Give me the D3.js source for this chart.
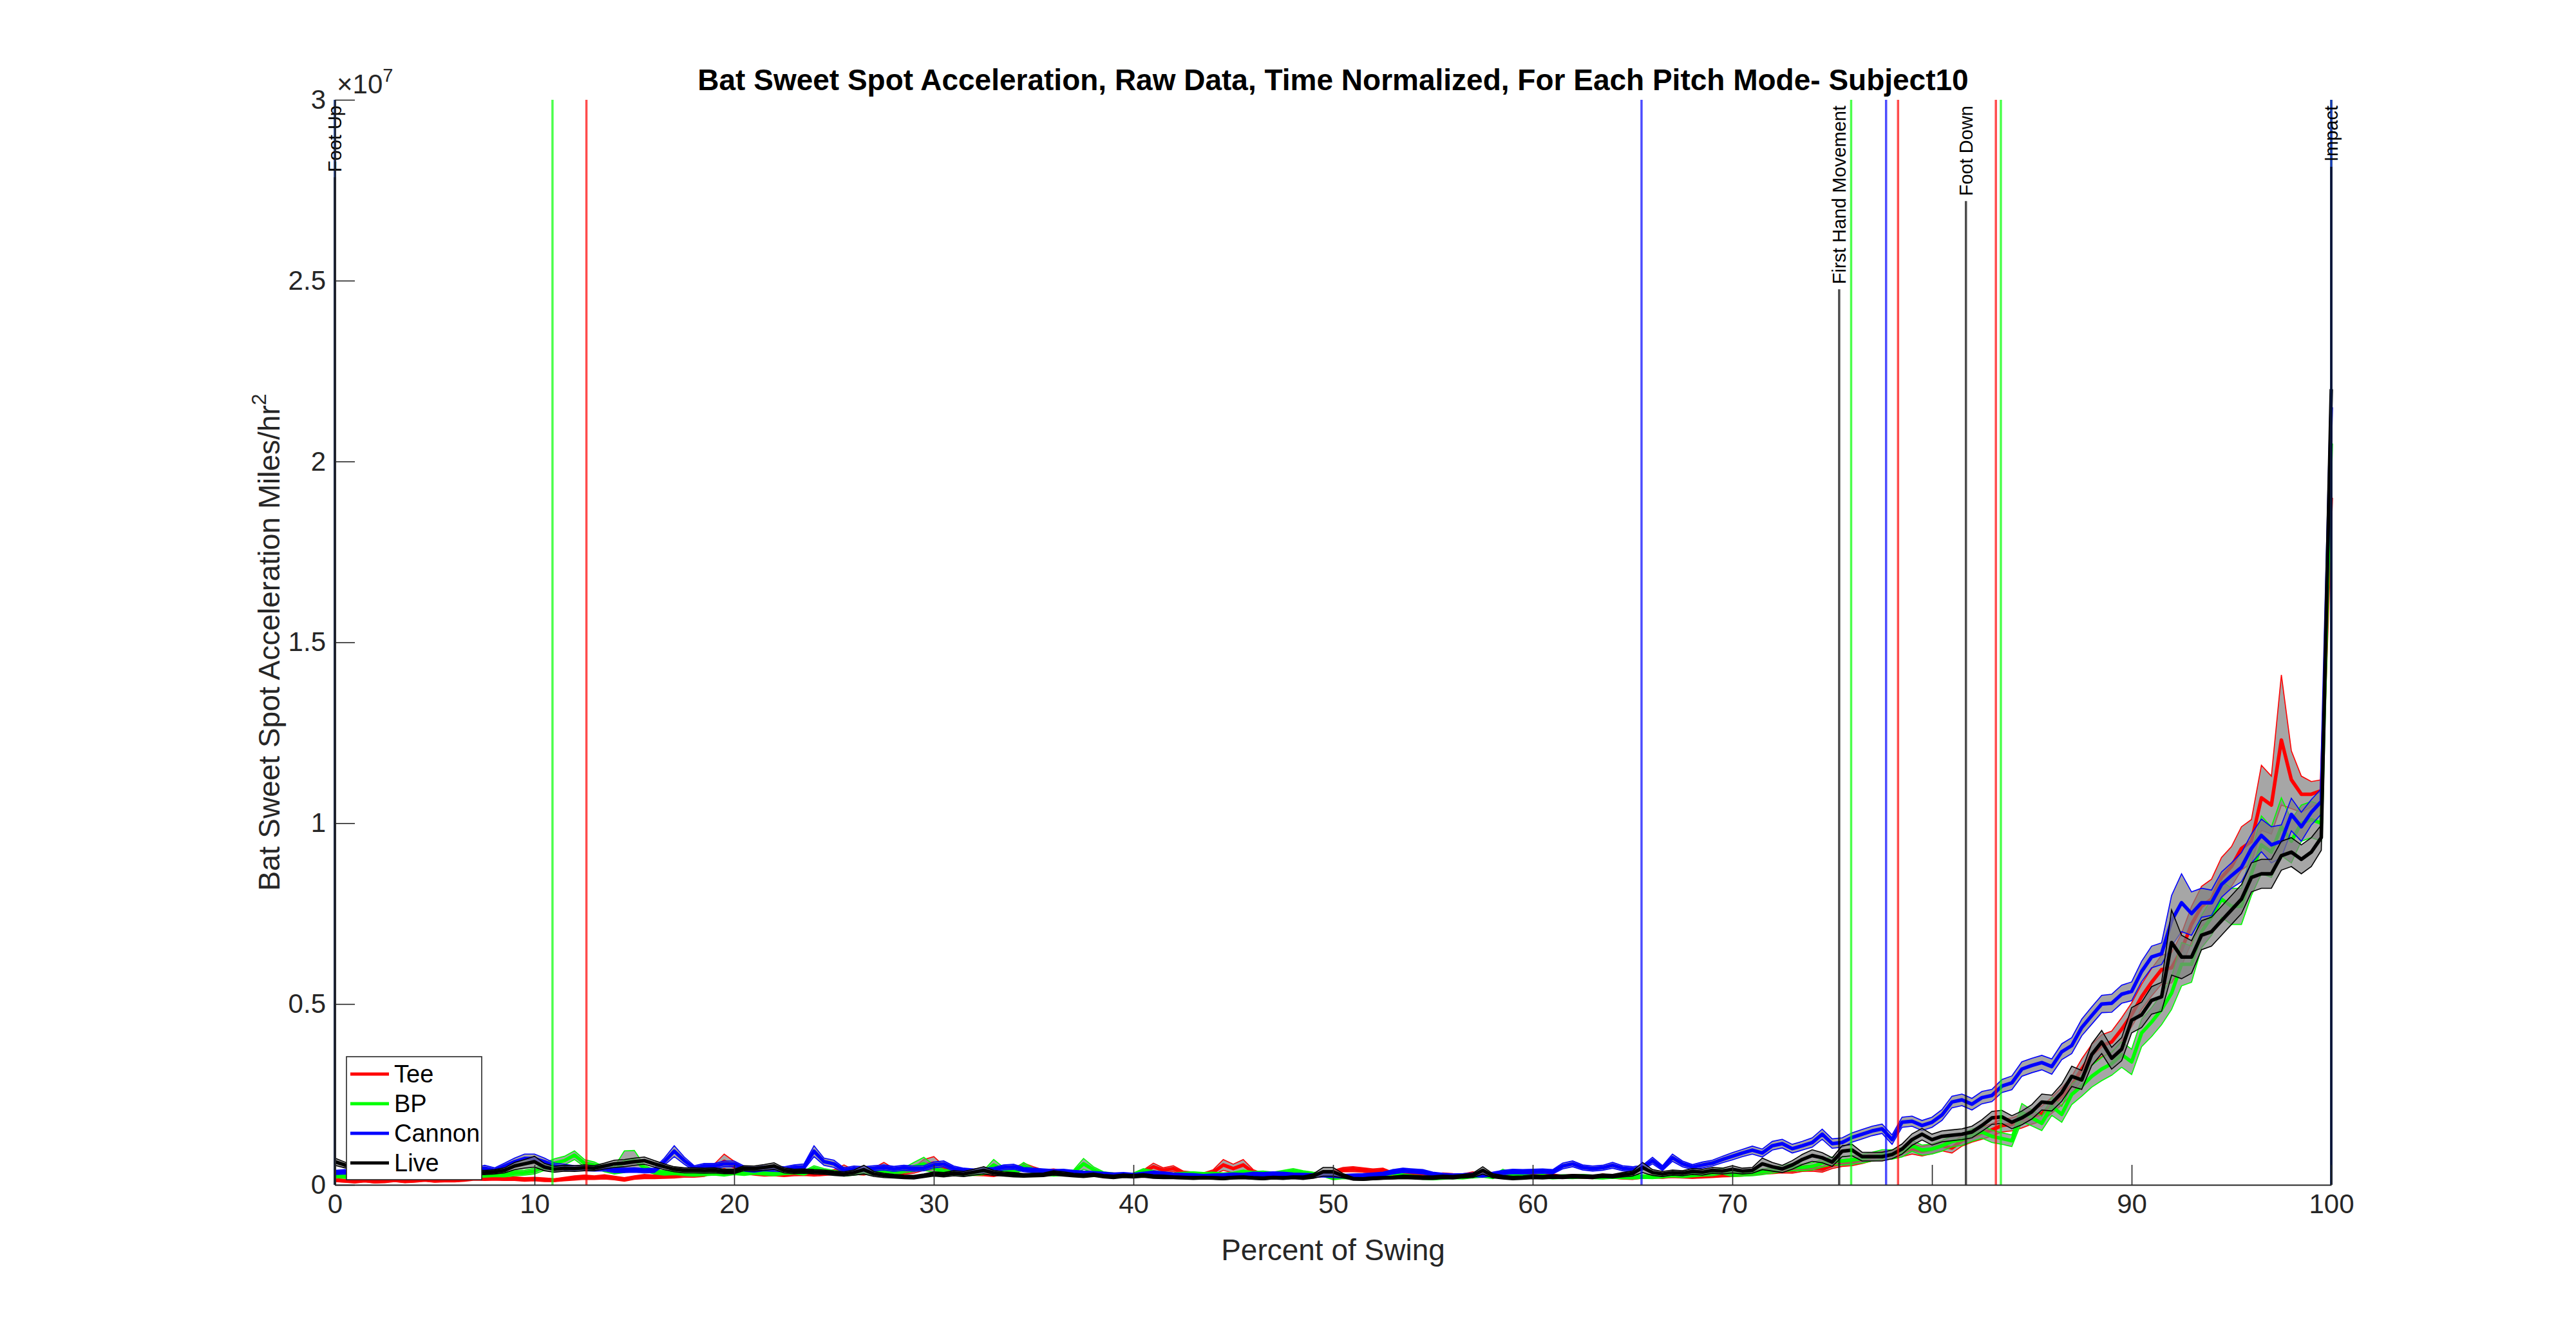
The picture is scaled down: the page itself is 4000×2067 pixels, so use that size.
<!DOCTYPE html>
<html>
<head>
<meta charset="utf-8">
<script src="https://cdn.jsdelivr.net/npm/d3@7"></script>
<style>
  body { margin: 0; background: #fff; }
  svg { display: block; }
  text { font-family: "Liberation Sans", Arial, Helvetica, sans-serif; }
</style>
</head>
<body>
<svg width="4000" height="2067"></svg>
<script>
// ---- data (acceleration in units of 1e6 miles/hr^2, sampled every 0.5 % of swing) ----
const modes = ["Tee", "BP", "Cannon", "Live"];
const modeColors = ["#ff0000", "#00ff00", "#0000ff", "#000000"];

const xTicks = [0, 10, 20, 30, 40, 50, 60, 70, 80, 90, 100];
const yTicks = [0, 0.5e7, 1e7, 1.5e7, 2e7, 2.5e7, 3e7];
const yTickLabels = ["0", "0.5", "1", "1.5", "2", "2.5", "3"];

const teeMean = [
  0.13,0.11,0.10,0.12,0.09,0.11,0.13,0.10,0.12,0.14,
  0.11,0.13,0.12,0.15,0.19,0.17,0.18,0.16,0.17,0.15,
  0.16,0.14,0.13,0.16,0.19,0.21,0.20,0.22,0.19,0.15,
  0.20,0.23,0.22,0.24,0.25,0.28,0.27,0.30,0.45,0.65,
  0.50,0.38,0.33,0.30,0.32,0.29,0.31,0.33,0.30,0.32,
  0.35,0.45,0.35,0.33,0.40,0.50,0.38,0.35,0.40,0.55,
  0.60,0.45,0.38,0.35,0.32,0.30,0.28,0.35,0.40,0.50,
  0.42,0.35,0.38,0.33,0.30,0.32,0.29,0.27,0.28,0.26,
  0.27,0.35,0.50,0.40,0.45,0.32,0.30,0.28,0.35,0.55,
  0.45,0.55,0.35,0.27,0.24,0.22,0.24,0.22,0.25,0.28,
  0.34,0.42,0.43,0.41,0.38,0.40,0.30,0.26,0.28,0.26,
  0.25,0.28,0.26,0.25,0.30,0.27,0.26,0.24,0.27,0.25,
  0.24,0.23,0.25,0.22,0.24,0.23,0.21,0.25,0.22,0.20,
  0.19,0.22,0.24,0.22,0.25,0.24,0.22,0.24,0.25,0.27,
  0.28,0.29,0.33,0.36,0.38,0.40,0.39,0.45,0.46,0.43,
  0.54,0.60,0.63,0.69,0.76,0.80,0.84,0.90,0.99,0.93,
  0.99,1.08,1.02,1.22,1.34,1.43,1.52,1.64,1.67,1.76,
  1.88,1.97,2.20,2.45,2.75,3.20,3.60,3.85,3.95,4.30,
  4.70,5.20,5.60,5.95,6.00,6.50,7.20,7.70,7.90,8.50,
  8.80,9.30,9.50,10.70,10.50,12.30,11.20,10.80,10.80,10.90,
  19.0
];
const teeBand = [
  .04,.04,.05,.04,.04,.05,.04,.04,.05,.04,
  .04,.05,.04,.05,.06,.05,.05,.04,.05,.05,
  .05,.05,.04,.05,.06,.06,.05,.06,.05,.05,
  .05,.06,.05,.06,.06,.07,.06,.07,.12,.20,
  .15,.08,.06,.06,.07,.06,.06,.07,.06,.06,
  .07,.10,.06,.06,.07,.12,.07,.06,.08,.15,
  .18,.08,.06,.06,.06,.05,.05,.06,.07,.10,
  .08,.06,.06,.06,.05,.05,.05,.05,.05,.05,
  .05,.06,.10,.07,.08,.06,.05,.05,.07,.15,
  .12,.15,.07,.05,.05,.04,.05,.04,.05,.05,
  .06,.06,.07,.06,.06,.06,.05,.05,.05,.05,
  .05,.05,.05,.05,.06,.05,.05,.05,.05,.05,
  .05,.05,.05,.04,.05,.05,.04,.05,.04,.04,
  .04,.04,.05,.04,.05,.05,.04,.05,.05,.05,
  .05,.05,.06,.06,.07,.07,.07,.08,.08,.08,
  .09,.09,.10,.10,.10,.11,.11,.12,.14,.13,
  .13,.14,.14,.15,.16,.17,.17,.18,.18,.19,
  .20,.21,.22,.24,.25,.28,.28,.30,.30,.32,
  .33,.35,.38,.40,.42,.45,.50,.55,.55,.55,
  .55,.60,.60,.90,.80,1.80,.80,.50,.35,.30,
  .30
];

const bpMean = [
  0.25,0.23,0.22,0.27,0.30,0.23,0.22,0.24,0.23,0.25,
  0.25,0.24,0.26,0.25,0.28,0.27,0.29,0.28,0.32,0.34,
  0.38,0.50,0.60,0.67,0.82,0.60,0.55,0.43,0.40,0.64,
  0.70,0.46,0.36,0.33,0.34,0.32,0.30,0.31,0.33,0.30,
  0.34,0.32,0.35,0.33,0.31,0.34,0.36,0.33,0.45,0.38,
  0.34,0.30,0.33,0.36,0.34,0.38,0.35,0.40,0.50,0.58,
  0.45,0.36,0.33,0.30,0.32,0.34,0.55,0.40,0.35,0.52,
  0.38,0.33,0.30,0.32,0.34,0.58,0.42,0.30,0.28,0.27,
  0.28,0.38,0.33,0.30,0.28,0.30,0.31,0.29,0.30,0.28,
  0.30,0.35,0.32,0.33,0.30,0.34,0.38,0.33,0.30,0.28,
  0.19,0.22,0.21,0.24,0.22,0.25,0.35,0.25,0.22,0.20,
  0.18,0.20,0.22,0.21,0.24,0.26,0.22,0.35,0.28,0.24,
  0.22,0.24,0.21,0.23,0.22,0.24,0.22,0.20,0.23,0.22,
  0.21,0.23,0.22,0.24,0.28,0.26,0.28,0.30,0.32,0.38,
  0.30,0.31,0.32,0.36,0.40,0.45,0.49,0.48,0.51,0.60,
  0.66,0.66,0.69,0.72,0.78,0.84,0.84,0.90,1.08,0.96,
  0.99,1.08,1.20,1.25,1.37,1.46,1.34,1.28,1.22,2.00,
  1.85,1.70,2.17,1.95,2.50,2.73,3.00,3.20,3.35,3.60,
  3.40,4.20,4.50,4.85,5.30,6.10,6.10,7.00,7.40,7.90,
  7.70,7.70,8.60,9.40,9.20,9.90,9.50,10.00,10.10,10.00,
  20.5
];
const bpBand = [
  .05,.05,.05,.06,.06,.05,.05,.05,.05,.05,
  .05,.05,.05,.05,.06,.06,.06,.06,.07,.07,
  .08,.10,.12,.12,.12,.10,.08,.07,.10,.30,
  .25,.08,.06,.06,.06,.06,.06,.06,.06,.06,
  .06,.06,.06,.06,.06,.06,.06,.06,.08,.07,
  .06,.06,.06,.06,.07,.08,.07,.07,.12,.18,
  .10,.07,.06,.06,.06,.06,.15,.08,.07,.10,
  .07,.06,.06,.06,.07,.15,.08,.06,.05,.05,
  .05,.07,.06,.05,.05,.05,.05,.05,.05,.05,
  .05,.06,.05,.05,.05,.06,.07,.06,.05,.05,
  .05,.05,.05,.05,.05,.05,.07,.05,.05,.05,
  .04,.05,.05,.05,.05,.05,.05,.08,.06,.05,
  .05,.05,.05,.05,.05,.05,.05,.04,.05,.05,
  .05,.05,.05,.05,.06,.06,.06,.06,.07,.08,
  .07,.07,.07,.08,.08,.09,.10,.09,.10,.11,
  .11,.11,.12,.12,.12,.13,.13,.13,.15,.14,
  .14,.15,.15,.16,.17,.17,.17,.16,.16,.25,
  .22,.20,.25,.22,.28,.28,.30,.32,.32,.35,
  .35,.38,.40,.42,.45,.60,.50,.45,.50,.50,
  .50,.50,.60,.80,.70,.80,.60,.50,.50,.50,
  .50
];

const cannonMean = [
  0.34,0.36,0.33,0.35,0.37,0.36,0.38,0.35,0.37,0.36,
  0.38,0.36,0.37,0.40,0.39,0.46,0.40,0.52,0.64,0.73,
  0.73,0.64,0.52,0.49,0.46,0.46,0.45,0.46,0.40,0.40,
  0.41,0.39,0.40,0.64,0.93,0.67,0.46,0.52,0.52,0.58,
  0.58,0.45,0.42,0.46,0.44,0.43,0.48,0.50,0.93,0.64,
  0.58,0.40,0.45,0.43,0.46,0.48,0.44,0.47,0.45,0.46,
  0.55,0.58,0.45,0.40,0.38,0.40,0.42,0.48,0.50,0.42,
  0.40,0.38,0.36,0.37,0.35,0.33,0.32,0.30,0.28,0.29,
  0.27,0.30,0.33,0.31,0.28,0.27,0.26,0.24,0.25,0.26,
  0.28,0.27,0.30,0.29,0.31,0.30,0.28,0.27,0.26,0.27,
  0.25,0.24,0.25,0.26,0.28,0.30,0.36,0.40,0.38,0.36,
  0.30,0.27,0.25,0.26,0.28,0.26,0.30,0.34,0.37,0.36,
  0.37,0.38,0.36,0.52,0.58,0.48,0.45,0.47,0.54,0.46,
  0.43,0.47,0.67,0.46,0.75,0.58,0.49,0.55,0.60,0.70,
  0.79,0.88,0.96,0.88,1.08,1.14,1.00,1.08,1.17,1.40,
  1.14,1.17,1.31,1.40,1.49,1.55,1.25,1.73,1.76,1.64,
  1.73,1.93,2.29,2.35,2.23,2.41,2.47,2.73,2.82,3.20,
  3.30,3.38,3.27,3.68,3.85,4.35,4.68,5.00,5.02,5.27,
  5.35,5.90,6.30,6.39,7.30,7.80,7.50,7.80,7.80,8.30,
  8.55,8.78,9.30,9.66,9.40,9.50,10.24,9.90,10.30,10.60,
  21.5
];
const cannonBand = [
  .06,.06,.06,.06,.06,.06,.06,.06,.06,.06,
  .06,.06,.06,.07,.07,.08,.07,.08,.10,.12,
  .12,.10,.08,.08,.07,.07,.07,.07,.06,.06,
  .06,.06,.06,.10,.15,.10,.07,.07,.07,.08,
  .08,.07,.07,.07,.07,.07,.07,.08,.15,.10,
  .10,.07,.07,.07,.07,.07,.07,.07,.07,.07,
  .08,.08,.07,.06,.06,.06,.06,.07,.07,.06,
  .06,.06,.06,.06,.05,.05,.05,.05,.05,.05,
  .05,.05,.05,.05,.05,.05,.05,.05,.05,.05,
  .05,.05,.05,.05,.05,.05,.05,.05,.05,.05,
  .05,.05,.05,.05,.05,.05,.06,.06,.06,.06,
  .05,.05,.05,.05,.05,.05,.05,.06,.06,.06,
  .06,.06,.06,.08,.08,.07,.07,.07,.08,.07,
  .07,.07,.09,.07,.10,.08,.07,.08,.08,.09,
  .10,.10,.11,.11,.12,.12,.12,.12,.13,.14,
  .13,.13,.13,.13,.13,.13,.13,.14,.14,.14,
  .14,.15,.16,.16,.16,.17,.17,.18,.19,.20,
  .20,.20,.21,.22,.22,.23,.24,.24,.25,.25,
  .26,.28,.30,.30,.70,.80,.60,.40,.35,.35,
  .35,.40,.40,.45,.50,.45,.45,.40,.35,.35,
  .40
];

const liveMean = [
  0.64,0.55,0.43,0.40,0.38,0.40,0.41,0.39,0.40,0.38,
  0.37,0.36,0.38,0.35,0.34,0.34,0.36,0.40,0.52,0.58,
  0.64,0.49,0.43,0.46,0.45,0.47,0.46,0.52,0.58,0.60,
  0.64,0.67,0.58,0.50,0.43,0.40,0.40,0.39,0.40,0.37,
  0.37,0.46,0.45,0.48,0.52,0.40,0.37,0.38,0.36,0.35,
  0.32,0.30,0.34,0.42,0.30,0.26,0.24,0.22,0.21,0.25,
  0.30,0.28,0.32,0.30,0.35,0.40,0.33,0.30,0.28,0.26,
  0.27,0.28,0.33,0.30,0.27,0.25,0.28,0.24,0.22,0.25,
  0.24,0.26,0.23,0.22,0.21,0.20,0.19,0.20,0.19,0.18,
  0.20,0.21,0.19,0.18,0.20,0.19,0.21,0.20,0.24,0.36,
  0.36,0.25,0.17,0.16,0.18,0.19,0.20,0.22,0.21,0.20,
  0.20,0.22,0.21,0.24,0.26,0.40,0.25,0.21,0.19,0.20,
  0.22,0.21,0.23,0.22,0.24,0.23,0.22,0.25,0.24,0.28,
  0.31,0.48,0.34,0.30,0.34,0.32,0.37,0.35,0.40,0.38,
  0.43,0.38,0.40,0.58,0.50,0.44,0.55,0.70,0.81,0.75,
  0.63,0.93,0.96,0.78,0.78,0.78,0.84,0.99,1.25,1.40,
  1.25,1.34,1.37,1.40,1.46,1.64,1.85,1.88,1.73,1.85,
  2.02,2.29,2.26,2.55,3.00,2.90,3.60,3.95,3.50,3.75,
  4.55,4.70,5.10,5.20,6.70,6.30,6.30,6.90,7.00,7.30,
  7.60,7.90,8.50,8.60,8.60,9.10,9.20,9.00,9.20,9.60,
  22.0
];
const liveBand = [
  .10,.08,.07,.06,.06,.06,.06,.06,.06,.06,
  .06,.06,.06,.06,.06,.06,.06,.07,.10,.12,
  .15,.10,.08,.08,.08,.08,.07,.08,.10,.10,
  .10,.10,.09,.08,.07,.07,.07,.07,.07,.06,
  .06,.07,.07,.08,.09,.07,.06,.06,.06,.06,
  .06,.06,.07,.12,.07,.06,.05,.05,.05,.05,
  .06,.06,.07,.07,.08,.10,.07,.06,.06,.05,
  .05,.05,.06,.06,.05,.05,.05,.05,.05,.05,
  .05,.05,.05,.05,.04,.04,.04,.04,.04,.04,
  .04,.04,.04,.04,.04,.04,.04,.05,.06,.12,
  .12,.06,.04,.04,.04,.04,.04,.05,.05,.05,
  .05,.05,.05,.05,.06,.10,.06,.05,.05,.05,
  .05,.05,.05,.05,.05,.05,.05,.05,.05,.06,
  .07,.14,.08,.07,.07,.07,.08,.08,.08,.08,
  .10,.08,.08,.16,.12,.10,.12,.14,.16,.14,
  .12,.15,.16,.12,.12,.12,.12,.14,.16,.16,
  .15,.15,.15,.15,.16,.16,.18,.18,.18,.19,
  .20,.22,.22,.24,.28,.26,.30,.32,.30,.32,
  .35,.35,.38,.40,.90,.60,.45,.40,.40,.40,
  .40,.40,.40,.40,.40,.40,.40,.40,.40,.35,
  .40
];

// swing events (percent of swing) per pitch mode
const teeEvents = [0, 12.6, 78.3, 83.2, 100];
const bpEvents = [0, 10.9, 75.95, 83.45, 100];
const cannonEvents = [0, 65.45, 77.7, 100];
const liveEvents = [0, 75.35, 81.7, 100];
const liveEventLabels = ["Foot Up", "First Hand Movement", "Foot Down", "Impact"];

// ---- layout ----
const svg = d3.select("svg");
const margin = {top: 155, right: 380, bottom: 227, left: 520};
const W = 4000, H = 2067;
const axisColor = "#262626";

const x = d3.scaleLinear().domain([0, 100]).range([margin.left, W - margin.right]);
const y = d3.scaleLinear().domain([0, 3e7]).range([H - margin.bottom, margin.top]);

const series = [
  {name: modes[0], color: modeColors[0], mean: teeMean, band: teeBand},
  {name: modes[1], color: modeColors[1], mean: bpMean, band: bpBand},
  {name: modes[2], color: modeColors[2], mean: cannonMean, band: cannonBand},
  {name: modes[3], color: modeColors[3], mean: liveMean, band: liveBand}
];
const pct = i => i * 0.5;

const plot = svg.append("g");

series.forEach(s => {
  const pts = s.mean.map((m, i) => ({p: pct(i), m: m * 1e6, b: s.band[i] * 1e6}));
  plot.append("path")
    .attr("d", d3.area().x(d => x(d.p)).y0(d => y(d.m - d.b)).y1(d => y(d.m + d.b))(pts))
    .attr("fill", "#808080").attr("fill-opacity", 0.7).attr("stroke", "none");
  [1, -1].forEach(sign => {
    plot.append("path")
      .attr("d", d3.line().x(d => x(d.p)).y(d => y(d.m + sign * d.b))(pts))
      .attr("fill", "none").attr("stroke", s.color).attr("stroke-width", 1.6);
  });
  plot.append("path")
    .attr("d", d3.line().x(d => x(d.p)).y(d => y(d.m))(pts))
    .attr("fill", "none").attr("stroke", s.color).attr("stroke-width", 5.5)
    .attr("stroke-linejoin", "round");
});

// ---- event lines ----
const ev = svg.append("g");
[[teeEvents, modeColors[0]], [bpEvents, modeColors[1]], [cannonEvents, modeColors[2]]].forEach(([evs, c]) => {
  ev.selectAll(null).data(evs).join("line")
    .attr("x1", d => x(d)).attr("x2", d => x(d))
    .attr("y1", y(0)).attr("y2", y(3e7))
    .attr("stroke", c).attr("stroke-opacity", 0.7).attr("stroke-width", 3.5);
});
liveEvents.forEach((d, i) => {
  const t = ev.append("text")
    .attr("transform", `translate(${x(d)},${y(3e7) + 9}) rotate(-90)`)
    .attr("text-anchor", "end")
    .attr("dominant-baseline", "central")
    .attr("font-size", 29)
    .attr("fill", "#000")
    .text(liveEventLabels[i]);
  const len = t.node().getComputedTextLength();
  ev.append("line")
    .attr("x1", x(d)).attr("x2", x(d))
    .attr("y1", y(0)).attr("y2", y(3e7) + 9 + len + 8)
    .attr("stroke", "#000").attr("stroke-opacity", 0.7).attr("stroke-width", 3.5);
});

// ---- axes ----
const xAxis = svg.append("g")
  .attr("transform", `translate(0,${y(0)})`)
  .call(d3.axisBottom(x).tickValues(xTicks).tickSizeInner(-31).tickSizeOuter(0).tickPadding(14));
const yAxis = svg.append("g")
  .attr("transform", `translate(${x(0)},0)`)
  .call(d3.axisLeft(y).tickValues(yTicks).tickFormat((d, i) => yTickLabels[i])
    .tickSizeInner(-31).tickSizeOuter(0).tickPadding(14));
[xAxis, yAxis].forEach(a => {
  a.select(".domain").attr("stroke", axisColor).attr("stroke-width", 2.2);
  a.selectAll(".tick line").attr("stroke", axisColor).attr("stroke-width", 1.6);
  a.selectAll(".tick text").attr("fill", axisColor).attr("font-size", 42)
    .attr("font-family", '"Liberation Sans", Arial, sans-serif');
});

// exponent label
const expo = svg.append("text")
  .attr("x", x(0) + 3).attr("y", y(3e7) - 10)
  .attr("font-size", 42).attr("fill", axisColor);
expo.append("tspan").text("\u00d710");
expo.append("tspan").attr("font-size", 29).attr("dy", -18).text("7");

// ---- title & labels ----
svg.append("text")
  .attr("x", (x(0) + x(100)) / 2).attr("y", 140)
  .attr("text-anchor", "middle").attr("font-size", 46).attr("font-weight", "bold").attr("fill", "#000")
  .text("Bat Sweet Spot Acceleration, Raw Data, Time Normalized, For Each Pitch Mode- Subject10");

svg.append("text")
  .attr("x", (x(0) + x(100)) / 2).attr("y", 1957)
  .attr("text-anchor", "middle").attr("font-size", 46).attr("fill", axisColor)
  .text("Percent of Swing");

const yl = svg.append("text")
  .attr("transform", `translate(418,${(y(0) + y(3e7)) / 2}) rotate(-90)`)
  .attr("text-anchor", "middle").attr("dominant-baseline", "central")
  .attr("font-size", 46).attr("fill", axisColor);
yl.append("tspan").text("Bat Sweet Spot Acceleration Miles/hr");
yl.append("tspan").attr("font-size", 32).attr("dy", -16).text("2");

// ---- legend ----
const lg = svg.append("g").attr("transform", "translate(538,1641)");
lg.append("rect").attr("width", 210).attr("height", 191)
  .attr("fill", "#fff").attr("stroke", axisColor).attr("stroke-width", 1.6);
modes.forEach((m, i) => {
  const cy = 27 + i * 46;
  lg.append("line").attr("x1", 6).attr("x2", 66).attr("y1", cy).attr("y2", cy)
    .attr("stroke", modeColors[i]).attr("stroke-width", 5);
  lg.append("text").attr("x", 74).attr("y", cy).attr("dominant-baseline", "central")
    .attr("font-size", 38).attr("fill", "#000").text(m);
});
</script>
</body>
</html>
